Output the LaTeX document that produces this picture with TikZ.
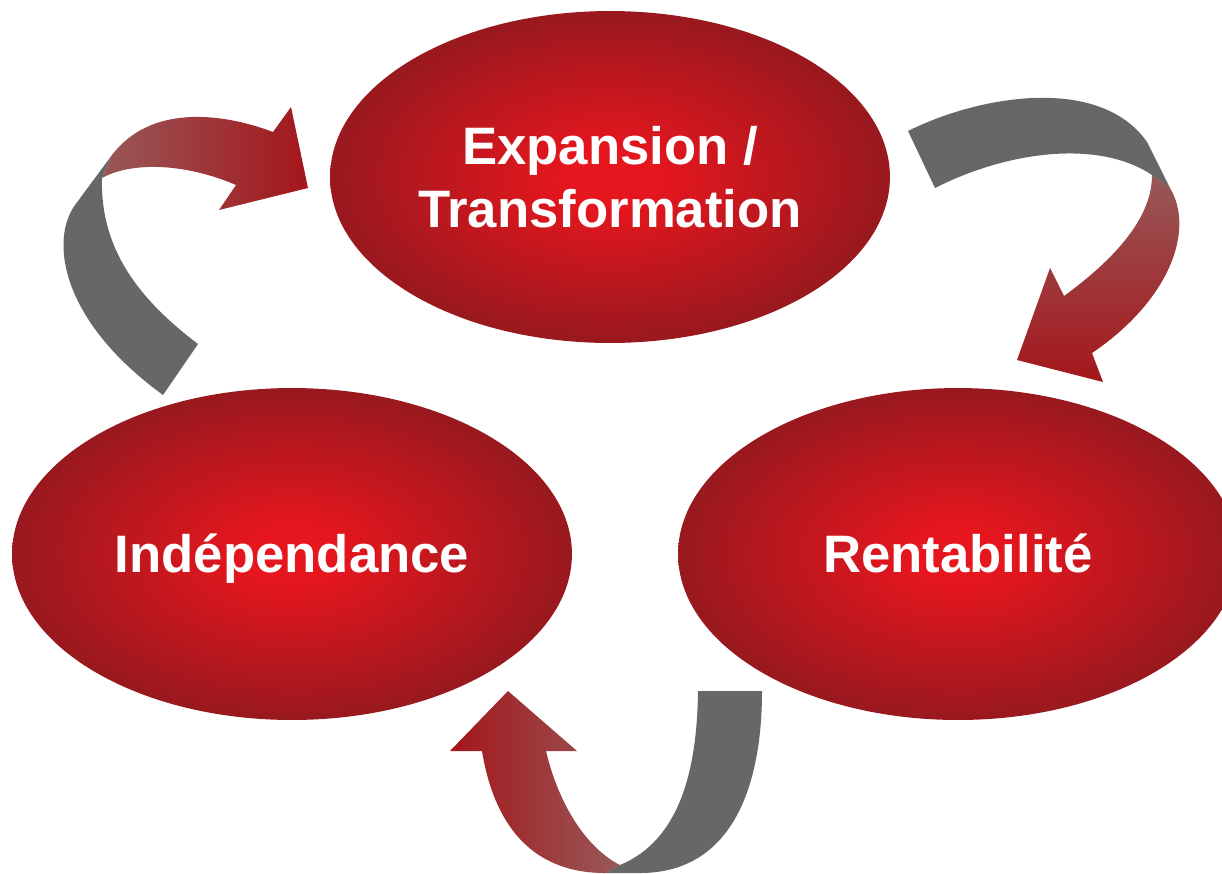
\documentclass[tikz,border=0pt]{standalone}
\usepackage{fontspec}
\setmainfont{Liberation Sans}
\usetikzlibrary{shapes.geometric}
\definecolor{ovalCore}{RGB}{230,22,30}
\definecolor{ovalRim}{RGB}{152,25,30}
\definecolor{ribbonGray}{RGB}{103,103,103}
\definecolor{ribbonFade}{RGB}{152,88,88}
\definecolor{ribbonRed}{RGB}{164,22,27}
\pgfdeclareradialshading{ovalglow}{\pgfpoint{0bp}{0bp}}{color(0bp)=(ovalCore); color(4bp)=(ovalCore); color(25bp)=(ovalRim); color(50bp)=(ovalRim)}
\begin{document}
\begin{tikzpicture}[
    x=0.02cm, y=-0.02cm,
    oval/.style={ellipse, shade, shading=ovalglow, minimum width=11.2cm,
                 minimum height=6.64cm, inner sep=0pt, align=center, text=white,
                 font=\fontsize{30}{35.7}\selectfont\bfseries,
                 text height=27pt, text depth=5.5pt},
    tail/.style={fill=ribbonGray},
  ]
    \useasboundingbox (0,0) rectangle (1222,873);

    \node[oval, text height=62.7pt] (grow) at (610,177) {Expansion /\\Transformation};
    \node[oval] (indep) at (292,554) {Indépendance};
    \node[oval] (profit) at (958,554) {Rentabilité};

    % ribbon from Indépendance up to Expansion
    \fill[tail] (163,395) -- (198,344) .. controls (140,300) and (100,250) .. (102,178)
        -- (112,155) -- (75,205) .. controls (50,240) and (60,320) .. (163,395) -- cycle;
    \shade[left color=ribbonFade, right color=ribbonRed] (102,178) -- (112,155)
        .. controls (150,105) and (220,112) .. (273,132) -- (291,107) -- (308,188)
        -- (219,210) -- (236,185) .. controls (190,165) and (135,160) .. (102,178) -- cycle;

    % ribbon from Expansion down to Rentabilité
    \fill[tail] (908,131) .. controls (980,95) and (1100,75) .. (1147,142) -- (1170,188)
        -- (1152,175) .. controls (1100,140) and (1010,150) .. (935,188) -- cycle;
    \shade[top color=ribbonFade, bottom color=ribbonRed] (1152,175) -- (1170,188)
        .. controls (1195,230) and (1170,300) .. (1092,353) -- (1103,382) -- (1017,360)
        -- (1050,268) -- (1064,296) .. controls (1120,255) and (1152,215) .. (1152,175) -- cycle;

    % ribbon from Rentabilité round to Indépendance
    \fill[tail] (698,691) -- (762,691) .. controls (762,790) and (730,873) .. (640,873)
        -- (605,873) -- (620,865) .. controls (680,840) and (697,770) .. (698,691) -- cycle;
    \shade[left color=ribbonRed, right color=ribbonFade] (605,873)
        .. controls (515,873) and (490,800) .. (482,751) -- (450,751) -- (508,691)
        -- (577,751) -- (546,751) .. controls (560,810) and (590,850) .. (620,865) -- cycle;
\end{tikzpicture}
\end{document}
